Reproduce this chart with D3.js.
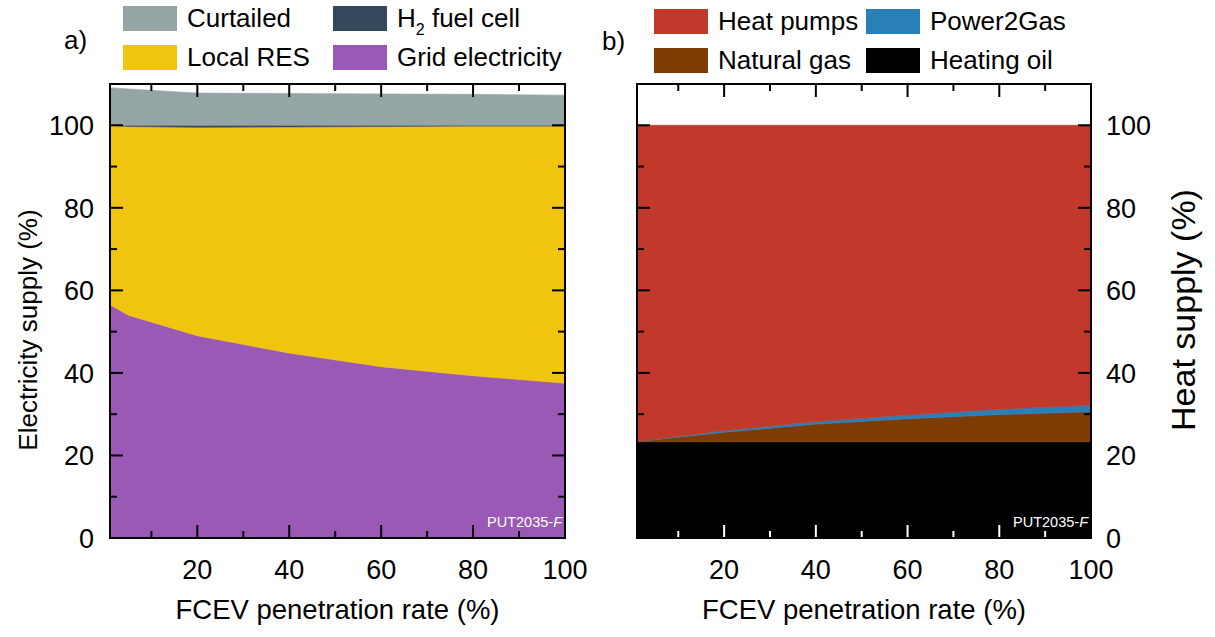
<!DOCTYPE html>
<html>
<head>
<meta charset="utf-8">
<script src="https://cdn.jsdelivr.net/npm/d3@7"></script>
<style>
  html, body { margin: 0; padding: 0; background: #fff; }
  svg { display: block; font-family: "Liberation Sans", Arial, sans-serif; }
</style>
</head>
<body>
<svg id="chart" width="1215" height="637"></svg>
<script>
// FCEV penetration rate (%) at which each scenario was evaluated
const fcevRate = [1, 5, 20, 40, 60, 80, 100];

// a) Electricity supply (%)
const gridElectricity = [56.5, 54.0, 49.0, 44.8, 41.5, 39.3, 37.5];
const localRES        = [43.5, 45.7, 50.5, 54.8, 58.2, 60.5, 62.3];
const h2FuelCell      = [0.0, 0.3, 0.5, 0.4, 0.3, 0.2, 0.2];
const curtailed       = [9.1, 8.8, 7.8, 7.7, 7.6, 7.5, 7.3];

// b) Heat supply (%)
const heatingOil = [23.3, 23.3, 23.3, 23.3, 23.3, 23.3, 23.3];
const naturalGas = [0.0, 0.5, 2.3, 4.3, 5.6, 6.6, 7.3];
const power2Gas  = [0.0, 0.1, 0.4, 0.6, 0.9, 1.3, 1.6];
const heatPumps  = [76.7, 76.1, 74.0, 71.8, 70.2, 68.8, 67.8];

const xMajorTicks = [20, 40, 60, 80, 100];
const xMinorTicks = [10, 30, 50, 70, 90];
const yMajorTicks = [0, 20, 40, 60, 80, 100];
const yMinorTicks = [10, 30, 50, 70, 90];

const FONT = '"Liberation Sans", Arial, sans-serif';
const svg = d3.select("#chart");

const plotTop = 84, plotBottom = 538;
const y = d3.scaleLinear().domain([0, 110]).range([plotBottom, plotTop]);

function drawPanel(opts) {
  const x = d3.scaleLinear().domain([1, 100]).range([opts.left, opts.right]);
  const g = svg.append("g");

  const rows = fcevRate.map((r, i) => {
    const o = { rate: r };
    opts.series.forEach(s => { o[s.key] = s.values[i]; });
    return o;
  });
  const stacked = d3.stack().keys(opts.series.map(s => s.key))(rows);
  const area = d3.area()
    .x(d => x(d.data.rate))
    .y0(d => y(d[0]))
    .y1(d => y(d[1]))
    .curve(d3.curveLinear);

  g.selectAll("path.layer")
    .data(stacked)
    .join("path")
    .attr("class", "layer")
    .attr("d", area)
    .attr("fill", (d, i) => opts.series[i].color)
    .attr("stroke", (d, i) => opts.series[i].color)
    .attr("stroke-width", 0.6);

  // scenario tag
  const tag = g.append("text")
    .attr("x", opts.right - 3).attr("y", plotBottom - 11)
    .attr("text-anchor", "end")
    .attr("fill", "#fff")
    .attr("font-size", 14.5)
    .attr("font-family", FONT);
  tag.append("tspan").text("PUT2035-");
  tag.append("tspan").attr("font-style", "italic").text("F");

  // inward ticks on all four sides
  const ticks = g.append("g").attr("stroke-width", 2);
  xMajorTicks.concat(xMinorTicks).forEach(v => {
    const len = xMajorTicks.includes(v) ? 13 : 7;
    ticks.append("line").attr("x1", x(v)).attr("x2", x(v))
      .attr("y1", plotTop).attr("y2", plotTop + len).attr("stroke", "#000");
    ticks.append("line").attr("x1", x(v)).attr("x2", x(v))
      .attr("y1", plotBottom).attr("y2", plotBottom - len).attr("stroke", opts.bottomTickColor);
  });
  yMajorTicks.concat(yMinorTicks).forEach(v => {
    const len = yMajorTicks.includes(v) ? 13 : 7;
    ticks.append("line").attr("x1", opts.left).attr("x2", opts.left + len)
      .attr("y1", y(v)).attr("y2", y(v)).attr("stroke", "#000");
    ticks.append("line").attr("x1", opts.right).attr("x2", opts.right - len)
      .attr("y1", y(v)).attr("y2", y(v)).attr("stroke", "#000");
  });

  // frame
  g.append("rect")
    .attr("x", opts.left).attr("y", plotTop)
    .attr("width", opts.right - opts.left).attr("height", plotBottom - plotTop)
    .attr("fill", "none").attr("stroke", "#000").attr("stroke-width", 2);

  // x tick labels
  g.selectAll("text.xl").data(xMajorTicks).join("text")
    .attr("class", "xl")
    .attr("x", d => x(d)).attr("y", 579)
    .attr("text-anchor", "middle")
    .attr("font-size", 27).attr("font-family", FONT)
    .text(d => d);

  // y tick labels
  g.selectAll("text.yl").data(yMajorTicks).join("text")
    .attr("class", "yl")
    .attr("x", opts.yLabelSide === "left" ? opts.left - 16 : opts.right + 15)
    .attr("y", d => y(d) + 10)
    .attr("text-anchor", opts.yLabelSide === "left" ? "end" : "start")
    .attr("font-size", 27).attr("font-family", FONT)
    .text(d => d);

  // x axis title
  g.append("text")
    .attr("x", (opts.left + opts.right) / 2).attr("y", 619)
    .attr("text-anchor", "middle")
    .attr("font-size", 27.5).attr("font-family", FONT)
    .text("FCEV penetration rate (%)");

  // y axis title
  g.append("text")
    .attr("transform", `translate(${opts.yTitleX},${opts.yTitleY}) rotate(-90)`)
    .attr("text-anchor", "middle")
    .attr("font-size", opts.yTitleSize).attr("font-family", FONT)
    .text(opts.yTitle);

  // panel letter
  g.append("text")
    .attr("x", opts.letterX).attr("y", opts.letterY)
    .attr("font-size", 26).attr("font-family", FONT)
    .text(opts.letter);

  // legend (2 x 2)
  const lg = g.append("g");
  opts.legend.forEach((item, i) => {
    const col = i % 2, row = Math.floor(i / 2);
    const lx = opts.legendX + col * opts.legendColW;
    const ly = opts.legendY + row * 39;
    lg.append("rect")
      .attr("x", lx).attr("y", ly)
      .attr("width", 54).attr("height", 25)
      .attr("fill", item.color);
    const t = lg.append("text")
      .attr("x", lx + 64).attr("y", ly + 21)
      .attr("font-size", 26).attr("font-family", FONT);
    if (item.sub) {
      t.append("tspan").text(item.label[0]);
      t.append("tspan").attr("font-size", 16).attr("dy", 8).text(item.sub);
      t.append("tspan").attr("dy", -8).text(item.label[1]);
    } else {
      t.text(item.label);
    }
  });
}

const C = {
  curtailed: "#95a5a6",
  h2: "#34495e",
  local: "#f1c40f",
  grid: "#9b59b6",
  heatPumps: "#c0392b",
  p2g: "#2980b9",
  gas: "#7f3c00",
  oil: "#000000"
};

drawPanel({
  left: 110, right: 565,
  series: [
    { key: "grid", values: gridElectricity, color: C.grid },
    { key: "local", values: localRES, color: C.local },
    { key: "h2", values: h2FuelCell, color: C.h2 },
    { key: "curtailed", values: curtailed, color: C.curtailed }
  ],
  bottomTickColor: "#000",
  yLabelSide: "left",
  yTitle: "Electricity supply (%)",
  yTitleX: 37, yTitleY: 330, yTitleSize: 26,
  letter: "a)", letterX: 64, letterY: 49,
  legendX: 123, legendY: 6, legendColW: 210,
  legend: [
    { label: "Curtailed", color: C.curtailed },
    { label: ["H", " fuel cell"], sub: "2", color: C.h2 },
    { label: "Local RES", color: C.local },
    { label: "Grid electricity", color: C.grid }
  ]
});

drawPanel({
  left: 637, right: 1091,
  series: [
    { key: "oil", values: heatingOil, color: C.oil },
    { key: "gas", values: naturalGas, color: C.gas },
    { key: "p2g", values: power2Gas, color: C.p2g },
    { key: "heatPumps", values: heatPumps, color: C.heatPumps }
  ],
  bottomTickColor: "#fff",
  yLabelSide: "right",
  yTitle: "Heat supply (%)",
  yTitleX: 1195, yTitleY: 310, yTitleSize: 34,
  letter: "b)", letterX: 602, letterY: 50,
  legendX: 654, legendY: 9, legendColW: 212,
  legend: [
    { label: "Heat pumps", color: C.heatPumps },
    { label: "Power2Gas", color: C.p2g },
    { label: "Natural gas", color: C.gas },
    { label: "Heating oil", color: C.oil }
  ]
});
</script>
</body>
</html>
